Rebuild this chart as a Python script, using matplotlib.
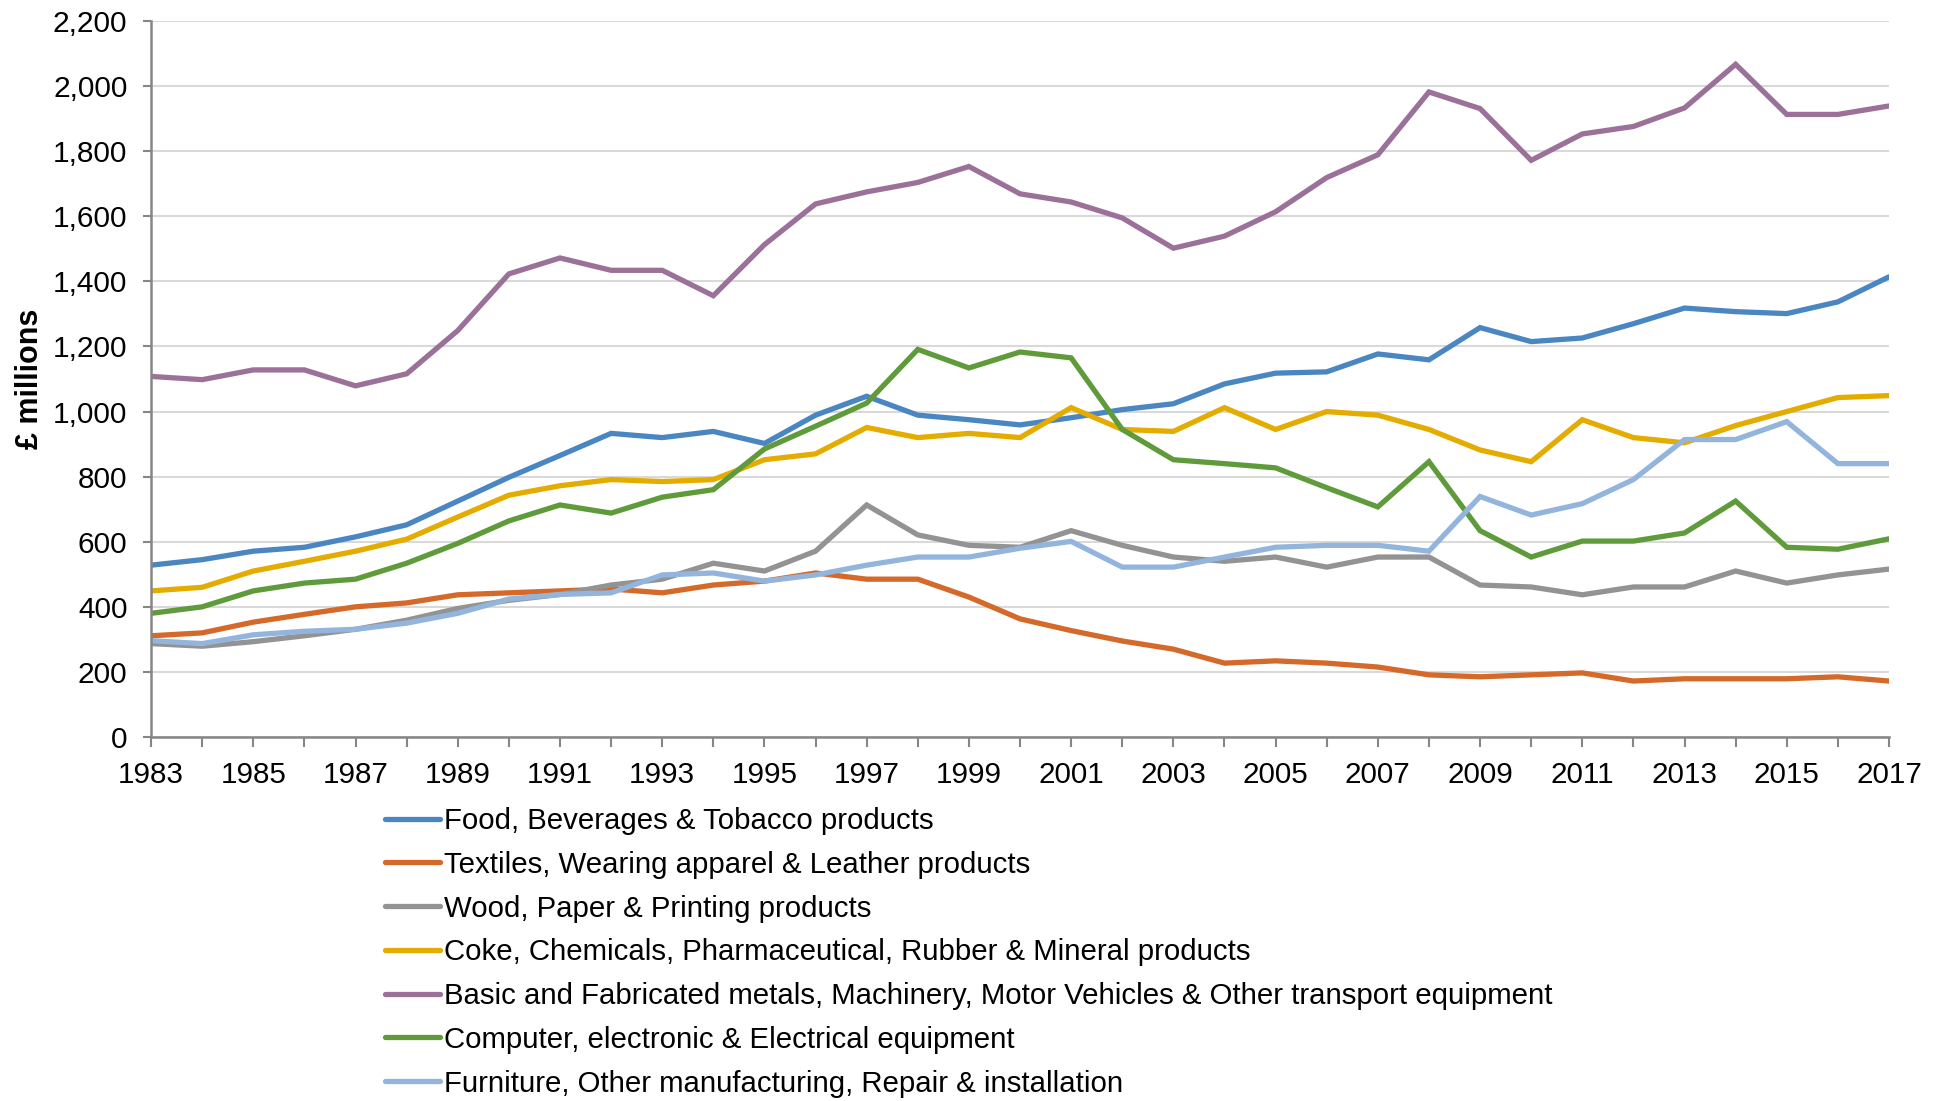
import matplotlib.pyplot as plt
import numpy as np
from matplotlib.ticker import FuncFormatter

# Anos (eixo x)
anos = list(range(1983, 2018))

# Séries em £ milhões
food = [528, 545, 571, 583, 615, 652, 725, 798, 865, 933, 920, 939, 902, 989, 1047, 989, 975,
        959, 981, 1006, 1024, 1085, 1118, 1122, 1177, 1159, 1258, 1215, 1226, 1270, 1318, 1307, 1301, 1337, 1414]
textiles = [311, 320, 353, 377, 400, 412, 437, 443, 449, 455, 443, 467, 479, 504, 485, 485, 430,
            363, 327, 295, 270, 227, 234, 227, 215, 191, 185, 191, 197, 172, 179, 179, 179, 185, 172]
wood = [287, 279, 293, 311, 331, 359, 395, 420, 438, 467, 485, 534, 510, 571, 713, 621, 589,
        583, 634, 589, 553, 540, 553, 522, 553, 553, 467, 461, 437, 461, 461, 510, 473, 498, 516]
coke = [449, 460, 510, 540, 571, 608, 676, 743, 772, 791, 785, 791, 852, 870, 951, 920, 933,
        920, 1012, 945, 939, 1012, 945, 1000, 989, 945, 882, 846, 975, 920, 904, 957, 1000, 1043, 1049]
metals = [1108, 1098, 1128, 1128, 1079, 1116, 1249, 1423, 1472, 1434, 1434, 1356, 1513, 1638, 1675, 1704, 1753,
          1669, 1644, 1595, 1502, 1539, 1614, 1719, 1789, 1982, 1931, 1772, 1853, 1876, 1933, 2067, 1913, 1913, 1939]
computer = [380, 400, 449, 473, 485, 534, 595, 664, 713, 688, 737, 760, 885, 955, 1026, 1191, 1134,
            1183, 1165, 945, 852, 840, 827, 766, 707, 846, 634, 553, 602, 602, 627, 725, 583, 577, 609]
furniture = [296, 287, 314, 325, 331, 350, 380, 424, 438, 443, 498, 504, 479, 498, 528, 553, 553,
             580, 601, 522, 522, 553, 583, 589, 589, 571, 739, 682, 717, 791, 914, 914, 969, 840, 840]

nomes = [
    'Food, Beverages & Tobacco products',
    'Textiles, Wearing apparel & Leather products',
    'Wood, Paper & Printing products',
    'Coke, Chemicals, Pharmaceutical, Rubber & Mineral products',
    'Basic and Fabricated metals, Machinery, Motor Vehicles & Other transport equipment',
    'Computer, electronic & Electrical equipment',
    'Furniture, Other manufacturing, Repair & installation',
]
series = [food, textiles, wood, coke, metals, computer, furniture]
cores = ['#4A86C1', '#D4692A', '#939393', '#E5AC00', '#9C7199', '#5F9B3A', '#93B5DD']

plt.rcParams['font.family'] = ['Liberation Sans', 'DejaVu Sans']

figura = plt.figure(figsize=(19.47, 11.01), dpi=100)
ax = figura.add_axes([0.0776, 0.3306, 0.8926, 0.6503])

for nome, valores, cor in zip(nomes, series, cores):
    ax.plot(anos, valores, color=cor, linewidth=3.8, label=nome,
            solid_capstyle='round', solid_joinstyle='miter')

# Eixos
ax.set_xlim(1983, 2017)
ax.set_ylim(0, 2200)
ax.set_yticks(np.arange(0, 2201, 200))
ax.yaxis.set_major_formatter(FuncFormatter(lambda v, p: f'{int(v):,}'))
ax.set_xticks(anos)
ax.set_xticklabels([str(a) if (a - 1983) % 2 == 0 else '' for a in anos])
ax.grid(axis='y', color='#D9D9D9', linewidth=1.5)
ax.set_axisbelow(True)

for lado in ['top', 'right']:
    ax.spines[lado].set_visible(False)
for lado in ['left', 'bottom']:
    ax.spines[lado].set_color('#868686')
    ax.spines[lado].set_linewidth(1.8)

ax.tick_params(axis='y', direction='out', length=6, width=1.5, color='#868686', labelsize=21.5, pad=11)
ax.tick_params(axis='x', direction='out', length=7, width=1.5, color='#868686', labelsize=21.3, pad=10)

ax.set_ylabel('£ millions', fontsize=22, fontweight='bold', labelpad=5.5)

# Legenda abaixo do gráfico
figura.legend(loc='upper left', bbox_to_anchor=(385 / 1947, 1 - 807 / 1101),
              frameon=False, fontsize=21.2, handlelength=1.87, handletextpad=0.14,
              labelspacing=0.535, borderpad=0, borderaxespad=0)

figura.savefig('out.png', dpi=100)
